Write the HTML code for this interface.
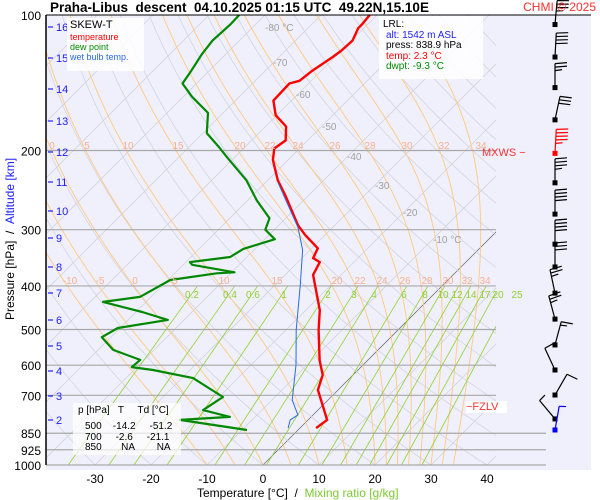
<!DOCTYPE html>
<html><head><meta charset="utf-8"><style>
body{margin:0;background:#fff;}
svg{display:block;font-family:"Liberation Sans",sans-serif;}
</style></head><body>
<svg id="c" width="600" height="500" xmlns="http://www.w3.org/2000/svg">
<defs><clipPath id="pc"><rect x="46" y="15" width="450" height="450"/></clipPath></defs>
<rect x="46" y="15" width="545" height="455" fill="#f0f0fc"/>
<g id="bg" clip-path="url(#pc)"></g>
<g id="hl"></g>
<g id="data" clip-path="url(#pc)"></g>
<g id="ann"></g>
</svg>
<script>
// ---- data ----
const tempP=[100,105,107,114,120,124,133,140,142,155,167,177,190,198,210,233,251,293,308,330,347,354,378,453,501,585,631,681,794,828];
const tempT=[-61.3,-61,-61,-59.8,-60,-60.4,-61.6,-62.1,-63.4,-63.2,-60.2,-56.3,-53.9,-54.5,-52.7,-48.2,-44.3,-36.6,-33.6,-28.9,-28,-26.1,-25,-17.5,-14.2,-8.6,-5.4,-3.6,3.4,2.9];
const dewP=[100,105,114,122,133,142,152,165,183,197,207,233,258,283,300,315,331,345,354,359,373,375,388,423,434,457,476,496,520,555,584,606,615,641,671,706,755,782,794,836];
const dewT=[-84.6,-84.5,-84.8,-84.3,-83.2,-82.5,-78.4,-72.7,-69.3,-64.5,-61.4,-53.8,-48.4,-42.9,-41.6,-38.2,-42.1,-43,-49.3,-48.4,-39.5,-42.5,-49.6,-52,-57.7,-48.9,-42.9,-50.4,-51.6,-47.3,-40.7,-40.9,-36.6,-28,-23.9,-19.3,-20.5,-14.5,-22.9,-9.1];
const wbP=[236,297,333,398,501,599,717,774,794,828];
const wbT=[-47.7,-36.1,-31.3,-25.5,-18.2,-12,-6.4,-2.7,-3.2,-2.1];
const windP=[105,124,145,171,203,236,277,323,363,415,474,541,615,699,790,836];
const windSpd=[35,40,25,30,45,35,40,40,30,25,25,15,10,10,5,5];
const windDir=[5,3,0,12,3,0,0,0,0,-12,-15,15,-25,30,-40,10];
const pLevels=[100,200,300,400,500,600,700,850,925,1000];
const altKm=[16,15,14,13,12,11,10,9,8,7,6,5,4,3,2];
const altY=[27,58,89,121,152,182,211,238,267,293,320,346,371,396,420];
const tTicks=[-30,-20,-10,0,10,20,30,40];
const mixW=[0.2,0.4,0.6,1,2,3,4,6,8,10,12,14,17,20,25];
// ---- scales ----
const NS="http://www.w3.org/2000/svg";
function Y(p){return 465-450*Math.log10(1000/p);}
function X(t,p){return 263+5.6*t+(465-Y(p));}
function mk(parent,tag,attrs){const e=document.createElementNS(NS,tag);for(const k in attrs)e.setAttribute(k,attrs[k]);parent.appendChild(e);return e;}
function txt(parent,x,y,s,attrs){const e=mk(parent,'text',Object.assign({x:x,y:y},attrs||{}));e.textContent=s;return e;}
const bg=document.getElementById('bg'),hl=document.getElementById('hl'),dg=document.getElementById('data'),an=document.getElementById('ann');
for(let t=-160;t<=50;t+=10){
  const l=mk(bg,'line',{x1:X(t,1050),y1:Y(1050),x2:X(t,90),y2:Y(90),stroke:t===0?'#777':'#d4d4dc','stroke-width':0.8});
  
  
}
for(let th=-40;th<=220;th+=10){
  let d='';for(let p=1050;p>=95;p-=10){const T=(th+273.15)*Math.pow(p/1000,0.286)-273.15;d+=(d?'L':'M')+X(T,p).toFixed(1)+','+Y(p).toFixed(1);}
  const e=mk(bg,'path',{d:d,fill:'none',stroke:'#d4d4dc','stroke-width':0.8});
  
  
}
function es(T){return 6.112*Math.exp(17.67*T/(T+243.5));}
const mw=[-10,-5,0,5,10,15,20,22,24,26,28,30,32,34];
mw.forEach(tw=>{
  let T=tw+273.15,p=1000,d='M'+X(tw,1000).toFixed(1)+','+Y(1000).toFixed(1);
  while(p>100){const e=es(T-273.15),rs=0.622*e/(p-e);
    const dTdp=(287*T+2.5e6*rs)/(p*(1004+2.5e6*2.5e6*rs*0.622/(287*T*T)));
    p-=5;T-=dTdp*5;d+='L'+X(T-273.15,p).toFixed(1)+','+Y(p).toFixed(1);}
  const e=mk(bg,'path',{d:d,fill:'none',stroke:'#ffc880','stroke-width':0.9});
  
  
});
mixW.forEach(w=>{
  function td(p){const e=w*p/(622+w);const l=Math.log(e/6.112);return 243.5*l/(17.67-l);}
  const e=mk(bg,'line',{x1:X(td(1000),1000),y1:Y(1000),x2:X(td(400),400),y2:Y(400),stroke:'#90d030','stroke-width':0.8});
  
  
});
pLevels.forEach(p=>{
  if(p>100){
    const x2=p>=850?546:496;
    const l=mk(hl,'line',{x1:46,y1:Y(p),x2:x2,y2:Y(p),stroke:'#a8a8a8','stroke-width':1.2});
    
    
  }
  const t=txt(an,41,Y(p)+5,String(p),{'font-size':12,'text-anchor':'end',fill:'#000'});
  
  
});
function series(P,T,color,w,name){
  let d='';P.forEach((p,i)=>{d+=(i?'L':'M')+X(T[i],p).toFixed(1)+','+Y(p).toFixed(1);});
  const e=mk(dg,'path',{d:d,fill:'none',stroke:color,'stroke-width':w,'stroke-linejoin':'round'});
  
  
}
series(dewP,dewT,'#008800',2.2,'dew-point-line');
series(tempP,tempT,'#ff0000',2.4,'temperature-line');
series(wbP,wbT,'#2a6be0',1,'wet-bulb-line');
const ax=mk(an,'line',{x1:46,y1:15,x2:46,y2:465,stroke:'#000','stroke-width':1.5});


const tp=mk(an,'line',{x1:46,y1:15,x2:591,y2:15,stroke:'#000','stroke-width':1});


altKm.forEach((k,i)=>{
  const l=mk(an,'line',{x1:48,y1:altY[i],x2:53,y2:altY[i],stroke:'#2020ff','stroke-width':1.2});
  
  
  const t=txt(an,56,altY[i]+4,String(k),{'font-size':11,fill:'#2020ff'});
  
  
});
tTicks.forEach(t=>{
  const e=txt(an,X(t,1000),483,String(t),{'font-size':12,'text-anchor':'middle'});
  
  
});
[[-80,265,31],[-70,273,66],[-60,296,98],[-50,322,130],[-40,347,160],[-30,375,189],[-20,403,216],[-10,433,243]].forEach(a=>{
  const e=txt(an,a[1],a[2],a[0]+(a[0]===-80||a[0]===-10?' °C':''),{'font-size':10,fill:'#a0a0a0'});
  
  
});
[['0',52],['5',87],['10',128],['15',178],['20',240],['22',270],['24',298],['26',335],['28',370],['30',407],['32',444],['34',481]].forEach(a=>{
  const e=txt(an,a[1],149,a[0],{'font-size':10,fill:'#f8b090','text-anchor':'middle'});
  
  
});
[['-10',70],['-5',100],['0',135],['5',175],['10',224],['15',277],['20',337],['22',360],['24',382],['26',405],['28',427],['30',448],['32',467],['34',485]].forEach(a=>{
  const e=txt(an,a[1],284,a[0],{'font-size':10,fill:'#f8b090','text-anchor':'middle'});
  
  
});
[['0.2',192],['0.4',230],['0.6',253],['1',284],['2',328],['3',354],['4',374],['6',404],['8',425],['10',443],['12',457],['14',471],['17',485],['20',498],['25',517]].forEach(a=>{
  const e=txt(an,a[1],298,a[0],{'font-size':10,fill:'#90d030','text-anchor':'middle'});
  
  
});
windP.forEach((p,i)=>{
  const y=Y(p),x=555,a=windDir[i]*Math.PI/180,L=24;
  const x2=x+L*Math.sin(a),y2=y-L*Math.cos(a);
  const g=mk(an,'g',{});
  
  
  const col=i===windP.length-1?'#0000ff':(i===4?'#ff0000':'#000');
  mk(g,'line',{x1:x,y1:y,x2:x2,y2:y2,stroke:col,'stroke-width':1.2});
  mk(g,'rect',{x:x-2.5,y:y-2.5,width:5,height:5,fill:col});
  let s=windSpd[i],k=0;
  while(s>=5){const full=s>=10;const len=full?12:7;
    const bx=x+(L-k*3.5)*Math.sin(a),by=y-(L-k*3.5)*Math.cos(a);
    mk(g,'line',{x1:bx,y1:by,x2:bx+len*Math.cos(a),y2:by+len*Math.sin(a)-1,stroke:col,'stroke-width':1.2});
    s-=full?10:5;k++;}
});
</script>
<div style="position:absolute;left:0;top:0;width:600px;height:500px;pointer-events:none;font-family:'Liberation Sans',sans-serif;">
<div style="position:absolute;left:50px;top:0;font-size:13.5px;font-weight:bold;white-space:nowrap;">Praha-Libus&nbsp;&nbsp;descent&nbsp;&nbsp;04.10.2025 01:15 UTC&nbsp;&nbsp;49.22N,15.10E</div>
<div style="position:absolute;right:4px;top:0;font-size:12px;color:#ff3030;white-space:nowrap;">CHMI © 2025</div>
<div style="position:absolute;left:67px;top:18px;width:74px;height:53px;background:rgba(255,255,255,0.85);font-size:9px;line-height:10px;padding-left:3px;">
<div style="font-size:11px;line-height:14px;">SKEW-T</div>
<div style="color:#ff0000;">temperature</div>
<div style="color:#008800;">dew point</div>
<div style="color:#2a6be0;white-space:nowrap;">wet bulb temp.</div>
</div>
<div style="position:absolute;left:379px;top:16px;width:104px;height:63px;background:rgba(255,255,255,0.85);font-size:10px;line-height:10.5px;padding:4px 0 0 4px;box-sizing:border-box;">
<div>LRL:</div><div style="color:#2020ff;padding-left:3px;">alt: 1542 m ASL</div><div style="padding-left:3px;">press: 838.9 hPa</div><div style="color:#ff0000;padding-left:3px;">temp: 2.3 °C</div><div style="color:#008800;padding-left:3px;">dwpt: -9.3 °C</div>
</div>
<div style="position:absolute;left:73px;top:403px;width:108px;height:52px;background:rgba(255,255,255,0.7);font-size:10px;line-height:10.5px;">
<div style="position:absolute;left:5px;top:3px;white-space:pre;">p [hPa]   T     Td [°C]</div>
<div style="position:absolute;left:12px;top:19px;white-space:pre;">500    -14.2     -51.2
700     -2.6     -21.1
850       NA        NA</div>
</div>
<div style="position:absolute;left:482px;top:147px;font-size:11px;color:#ff3030;">MXWS −</div>
<div style="position:absolute;left:466px;top:401px;width:41px;height:12px;background:#fff;font-size:11px;color:#ff3030;line-height:12px;">−FZLV</div>
<div style="position:absolute;left:197px;top:486px;font-size:12px;white-space:nowrap;">Temperature [°C]&nbsp;&nbsp;/&nbsp;&nbsp;<span style="color:#7cc830;">Mixing ratio [g/kg]</span></div>
<div style="position:absolute;left:-90px;top:232px;width:200px;transform:rotate(-90deg);text-align:center;font-size:12px;white-space:nowrap;">Pressure [hPa]&nbsp;&nbsp;/&nbsp;&nbsp;<span style="color:#2020ff;">Altitude [km]</span></div>
</div>
</body></html>
